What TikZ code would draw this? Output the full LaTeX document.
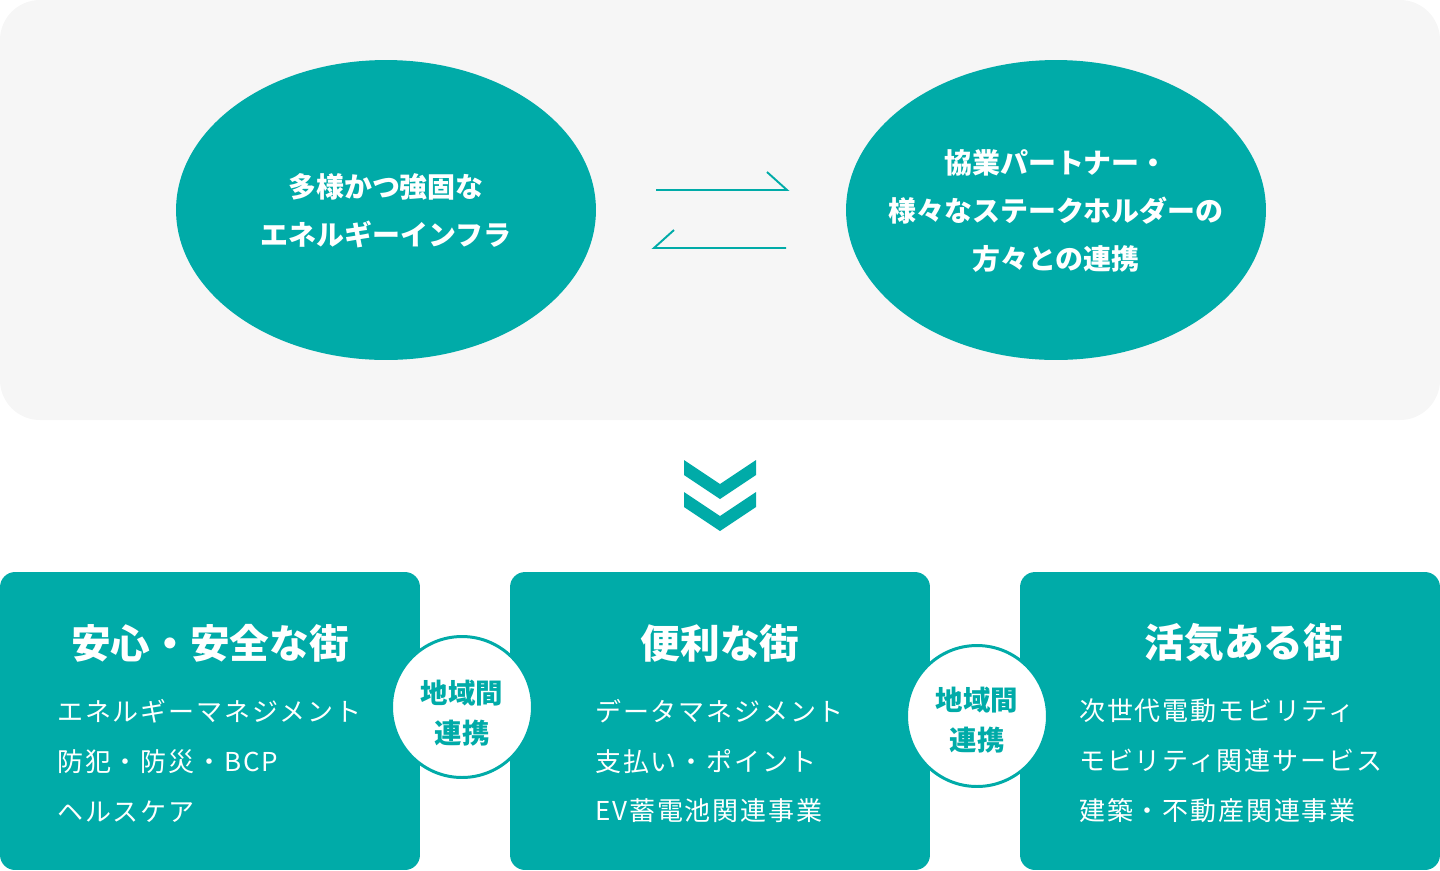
\documentclass[tikz,border=0pt]{standalone}
\usepackage{fontspec}
\setmainfont{Noto Sans CJK JP}
\newfontfamily\listfont[LetterSpace=7]{Noto Sans CJK JP}
\usetikzlibrary{shapes.geometric}
\definecolor{tealmain}{RGB}{0,171,168}
\definecolor{bggray}{RGB}{246,246,246}

\begin{document}
\begin{tikzpicture}[x=0.02cm, y=-0.02cm,
        oval/.style={ellipse, fill=tealmain, inner sep=0, minimum width=8.4cm, minimum height=6cm},
        ovaltext/.style={text=white, align=center, font=\bfseries\fontsize{15.9}{27.2}\selectfont},
        halfarrow/.style={draw=tealmain, line width=1.1pt},
        citybox/.style={fill=tealmain, rounded corners=0.3cm, inner sep=0, minimum width=8.4cm, minimum height=5.96cm},
        citytitle/.style={text=white, font=\bfseries\fontsize{22.6}{26}\selectfont},
        citylist/.style={text=white, anchor=west, align=left, inner sep=0, font=\listfont\fontsize{14.8}{28.35}\selectfont},
        linkcircle/.style={circle, fill=white, draw=tealmain, line width=1.7pt, inner sep=0, minimum size=2.82cm},
        linktext/.style={text=tealmain, align=center, font=\bfseries\fontsize{15.6}{22.7}\selectfont}]
        \useasboundingbox (0,0) rectangle (1440,870);

        \fill [bggray, rounded corners=0.8cm] (0,0) rectangle (1440,420);

        \node[oval] (infra) at (386,210) {};
        \node[ovaltext] (infratext) at (386,211) {多様かつ強固な\\エネルギーインフラ};
        \node[oval] (partner) at (1056,210) {};
        \node[ovaltext] (partnertext) at (1056,211) {協業パートナー・\\様々なステークホルダーの\\方々との連携};

        \coordinate (toa) at (656,190);
        \coordinate (tob) at (787,190);
        \coordinate (froma) at (786,248);
        \coordinate (fromb) at (654,248);
        \draw[halfarrow] (toa) -- (tob) -- ++(-20,-18);
        \draw[halfarrow] (froma) -- (fromb) -- ++(20,-18);

        \fill[tealmain] (684,460) -- (720,484) -- (756,460) -- (756,475) -- (720,499) -- (684,475) -- cycle;
        \fill[tealmain] (684,492) -- (720,516) -- (756,492) -- (756,507) -- (720,531) -- (684,507) -- cycle;

        \node[citybox] (safe) at (210,721) {};
        \node[citybox] (handy) at (720,721) {};
        \node[citybox] (lively) at (1230,721) {};

        \node[citytitle] (safetitle) at (210,643) {安心・安全な街};
        \node[citylist] (safelist) at (57,761) {エネルギーマネジメント\\防犯・防災・BCP\\ヘルスケア};

        \node[citytitle] (handytitle) at (720,643) {便利な街};
        \node[citylist] (handylist) at (595,761) {データマネジメント\\支払い・ポイント\\EV蓄電池関連事業};

        \node[citytitle] (livelytitle) at (1244,643) {活気ある街};
        \node[citylist] (livelylist) at (1079,761) {次世代電動モビリティ\\モビリティ関連サービス\\建築・不動産関連事業};

        \node[linkcircle] (linka) at (462,707) {};
        \node[linktext] at (462,713) {地域間\\連携};
        \node[linkcircle] (linkb) at (977,716) {};
        \node[linktext] at (977,720) {地域間\\連携};

\end{tikzpicture}
\end{document}
